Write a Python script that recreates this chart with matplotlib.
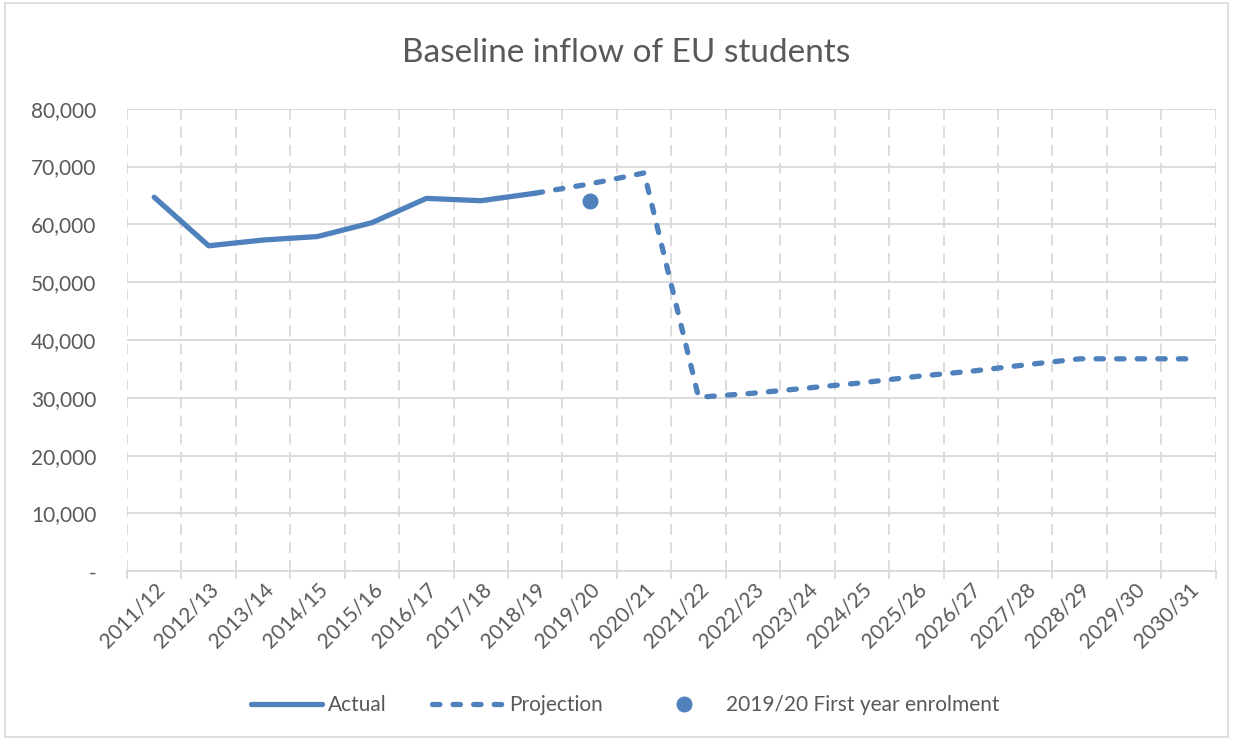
import numpy as np
import matplotlib
matplotlib.use("Agg")
import matplotlib.pyplot as plt
from matplotlib.ticker import FuncFormatter, FixedLocator
from matplotlib.patches import Rectangle

# --- data ---
years = ["2011/12", "2012/13", "2013/14", "2014/15", "2015/16", "2016/17",
         "2017/18", "2018/19", "2019/20", "2020/21", "2021/22", "2022/23",
         "2023/24", "2024/25", "2025/26", "2026/27", "2027/28", "2028/29",
         "2029/30", "2030/31"]
actual = [64700, 56300, 57300, 57900, 60300, 64500, 64100, 65400]
projection = [65400, 67000, 68900, 30100, 30800, 31700, 32600, 33700,
              34600, 35700, 36750, 36750, 36750]
first_year = [64000]

blue = "#4f81bd"
grey_text = "#595959"
grid_col = "#d9d9d9"

plt.rcParams["font.family"] = ["Lato", "DejaVu Sans"]

fig = plt.figure(figsize=(12.33, 7.4), dpi=100)
ax = fig.add_axes([0.103, 0.228, 0.883, 0.625])

x = np.arange(len(years))
x_act = x[:len(actual)]
x_proj = x[len(actual) - 1:len(actual) - 1 + len(projection)]
x_dot = x[years.index("2019/20")]

ax.plot(x_act, actual, color=blue, lw=3.8, solid_capstyle="round",
        solid_joinstyle="round", label="Actual", zorder=3)
ax.plot(x_proj, projection, color=blue, lw=3.8, linestyle=(0, (1.4, 2.5)),
        dash_capstyle="round", label="Projection", zorder=3)
ax.plot([x_dot], first_year, "o", color=blue, ms=10.5,
        label="2019/20 First year enrolment", zorder=4)

ax.set_xlim(-0.5, len(years) - 0.5)
ax.set_ylim(0, 80000)
ax.set_yticks(np.arange(0, 80001, 10000))
ax.yaxis.set_major_formatter(FuncFormatter(lambda v, p: "-" if v == 0 else f"{int(v):,}"))
ax.set_xticks(x)
ax.set_xticklabels(years, rotation=45, ha="right", rotation_mode="anchor")
ax.xaxis.set_minor_locator(FixedLocator(np.arange(-0.5, len(years), 1.0)))

ax.grid(axis="y", which="major", color=grid_col, lw=1.3, linestyle="-")
ax.grid(axis="x", which="minor", color=grid_col, lw=1.3, linestyle=(0, (6, 4)))
ax.set_axisbelow(True)

for s in ["top", "right", "left"]:
    ax.spines[s].set_visible(False)
ax.spines["bottom"].set_color(grid_col)
ax.spines["bottom"].set_linewidth(1.3)

ax.tick_params(axis="y", length=0, pad=22, labelsize=15, labelcolor=grey_text)
ax.tick_params(axis="x", which="major", length=0, pad=6, labelsize=15,
               labelcolor=grey_text)
ax.tick_params(axis="x", which="minor", length=6, color=grid_col, width=1.3)

fig.text(0.508, 0.928, "Baseline inflow of EU students", ha="center",
         va="center", fontsize=24, color=grey_text)

fig.legend(loc="center", bbox_to_anchor=(0.507, 0.047), ncol=3, frameon=False,
           fontsize=15, labelcolor=grey_text, handlelength=3.4,
           handletextpad=0.3, columnspacing=2.2)

fig.patches.append(Rectangle((0.004, 0.004), 0.992, 0.992, transform=fig.transFigure,
                             fill=False, edgecolor=grid_col, lw=1.2))

fig.savefig("out.png", dpi=100, facecolor="white")
